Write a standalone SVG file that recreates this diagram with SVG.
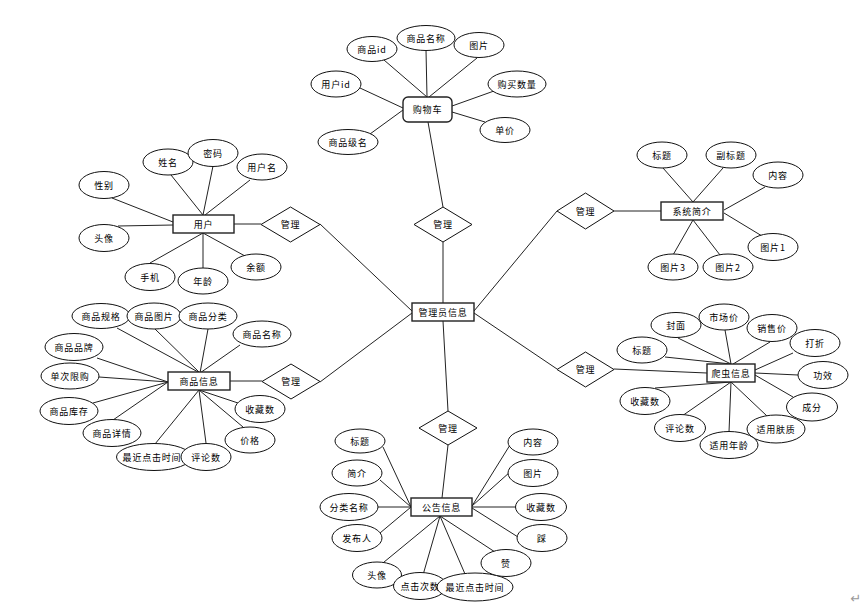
<svg xmlns="http://www.w3.org/2000/svg" width="866" height="610" viewBox="0 0 866 610">
<style>
.bg{fill:#fff}
.ln{stroke:#222;stroke-width:1;fill:none}
.at{fill:#fff;stroke:#111;stroke-width:1}
.en{fill:#fff;stroke:#222;stroke-width:1.4}
.rl{fill:#fff;stroke:#111;stroke-width:1}
.t{font-family:"Noto Sans CJK SC","Liberation Sans",sans-serif;font-size:9px;letter-spacing:0.8px;fill:#000;text-anchor:middle;dominant-baseline:central}
</style>
<rect class="bg" width="866" height="610"/>
<g id="connectors">
<!-- cart -->
<line class="ln" x1="384" y1="60" x2="427" y2="97"/>
<line class="ln" x1="426" y1="50" x2="427" y2="97"/>
<line class="ln" x1="477" y1="58" x2="429" y2="97"/>
<line class="ln" x1="360" y1="88" x2="403" y2="108"/>
<line class="ln" x1="494" y1="91" x2="452" y2="106"/>
<line class="ln" x1="485" y1="122" x2="452" y2="112"/>
<line class="ln" x1="370" y1="134" x2="403" y2="110"/>
<line class="ln" x1="428" y1="122" x2="443" y2="207"/>
<!-- admin links -->
<line class="ln" x1="443" y1="242" x2="443" y2="303"/>
<line class="ln" x1="320" y1="224" x2="412" y2="311"/>
<line class="ln" x1="320" y1="382" x2="412" y2="313"/>
<line class="ln" x1="557" y1="211" x2="474" y2="311"/>
<line class="ln" x1="557" y1="369" x2="474" y2="313"/>
<line class="ln" x1="443" y1="321" x2="448" y2="411"/>
<line class="ln" x1="448" y1="445" x2="442" y2="498"/>
<line class="ln" x1="234" y1="224" x2="261" y2="224"/>
<line class="ln" x1="230" y1="381" x2="262" y2="381"/>
<line class="ln" x1="614" y1="211" x2="661" y2="211"/>
<line class="ln" x1="614" y1="369" x2="707" y2="373"/>
<!-- user -->
<line class="ln" x1="171" y1="175" x2="203" y2="215"/>
<line class="ln" x1="213" y1="166" x2="203" y2="215"/>
<line class="ln" x1="250" y1="180" x2="205" y2="215"/>
<line class="ln" x1="112" y1="198" x2="173" y2="222"/>
<line class="ln" x1="118" y1="226" x2="173" y2="225"/>
<line class="ln" x1="150" y1="263" x2="203" y2="233"/>
<line class="ln" x1="203" y1="268" x2="203" y2="233"/>
<line class="ln" x1="245" y1="256" x2="203" y2="233"/>
<!-- goods -->
<line class="ln" x1="117" y1="328" x2="200" y2="373"/>
<line class="ln" x1="155" y1="329" x2="200" y2="373"/>
<line class="ln" x1="208" y1="329" x2="200" y2="373"/>
<line class="ln" x1="240" y1="345" x2="200" y2="373"/>
<line class="ln" x1="97" y1="358" x2="168" y2="382"/>
<line class="ln" x1="99" y1="377" x2="168" y2="382"/>
<line class="ln" x1="93" y1="403" x2="168" y2="382"/>
<line class="ln" x1="113" y1="420" x2="168" y2="382"/>
<line class="ln" x1="155" y1="444" x2="199" y2="390"/>
<line class="ln" x1="206" y1="443" x2="199" y2="390"/>
<line class="ln" x1="243" y1="427" x2="199" y2="390"/>
<line class="ln" x1="238" y1="403" x2="199" y2="390"/>
<!-- notice -->
<line class="ln" x1="383" y1="447" x2="411" y2="507"/>
<line class="ln" x1="380" y1="480" x2="411" y2="507"/>
<line class="ln" x1="378" y1="507" x2="411" y2="507"/>
<line class="ln" x1="380" y1="533" x2="411" y2="507"/>
<line class="ln" x1="378" y1="567" x2="440" y2="516"/>
<line class="ln" x1="423" y1="575" x2="440" y2="516"/>
<line class="ln" x1="465" y1="574" x2="440" y2="516"/>
<line class="ln" x1="495" y1="552" x2="440" y2="516"/>
<line class="ln" x1="518" y1="537" x2="472" y2="508"/>
<line class="ln" x1="517" y1="507" x2="472" y2="507"/>
<line class="ln" x1="510" y1="472" x2="472" y2="506"/>
<line class="ln" x1="510" y1="445" x2="472" y2="506"/>
<!-- system intro -->
<line class="ln" x1="663" y1="168" x2="693" y2="202"/>
<line class="ln" x1="723" y1="168" x2="693" y2="202"/>
<line class="ln" x1="765" y1="187" x2="724" y2="210"/>
<line class="ln" x1="762" y1="236" x2="724" y2="213"/>
<line class="ln" x1="720" y1="255" x2="693" y2="220"/>
<line class="ln" x1="673" y1="255" x2="693" y2="220"/>
<!-- crawler -->
<line class="ln" x1="678" y1="338" x2="731" y2="364"/>
<line class="ln" x1="725" y1="330" x2="731" y2="364"/>
<line class="ln" x1="770" y1="342" x2="733" y2="364"/>
<line class="ln" x1="793" y1="353" x2="755" y2="370"/>
<line class="ln" x1="798" y1="375" x2="755" y2="373"/>
<line class="ln" x1="793" y1="397" x2="755" y2="375"/>
<line class="ln" x1="767" y1="416" x2="731" y2="382"/>
<line class="ln" x1="729" y1="432" x2="731" y2="382"/>
<line class="ln" x1="682" y1="416" x2="731" y2="382"/>
<line class="ln" x1="655" y1="388" x2="731" y2="382"/>
<line class="ln" x1="665" y1="357" x2="731" y2="364"/>
</g>

<!-- cart -->
<g id="cart"><rect class="en" x="403" y="97" width="49" height="25" rx="5"/><text class="t" x="427.5" y="109.5">购物车</text></g>
<g id="cart-goodsid"><ellipse class="at" cx="372" cy="49" rx="25" ry="12.5"/><text class="t" x="372" y="49">商品id</text></g>
<g id="cart-goodsname"><ellipse class="at" cx="426" cy="38" rx="29" ry="12.5"/><text class="t" x="426" y="38">商品名称</text></g>
<g id="cart-pic"><ellipse class="at" cx="479" cy="45" rx="25" ry="12.5"/><text class="t" x="479" y="45">图片</text></g>
<g id="cart-userid"><ellipse class="at" cx="336" cy="84" rx="25" ry="13"/><text class="t" x="336" y="84">用户id</text></g>
<g id="cart-qty"><ellipse class="at" cx="517" cy="84" rx="29" ry="13"/><text class="t" x="517" y="84">购买数量</text></g>
<g id="cart-price"><ellipse class="at" cx="505" cy="130" rx="25" ry="12.5"/><text class="t" x="505" y="130">单价</text></g>
<g id="cart-level"><ellipse class="at" cx="348" cy="142" rx="30" ry="12.5"/><text class="t" x="348" y="142">商品级名</text></g>

<!-- relations -->
<g id="rel-cart"><polygon class="rl" points="443,207 472,224.5 443,242 414,224.5"/><text class="t" x="443" y="224.5">管理</text></g>
<g id="rel-user"><polygon class="rl" points="290.5,207 320,224.5 290.5,242 261,224.5"/><text class="t" x="290.5" y="224.5">管理</text></g>
<g id="rel-goods"><polygon class="rl" points="291,364 320,381.5 291,399 262,381.5"/><text class="t" x="291" y="381.5">管理</text></g>
<g id="rel-intro"><polygon class="rl" points="585.5,193 614,211 585.5,229 557,211"/><text class="t" x="585.5" y="211">管理</text></g>
<g id="rel-crawler"><polygon class="rl" points="585.5,352 614,369.5 585.5,387 557,369.5"/><text class="t" x="585.5" y="369.5">管理</text></g>
<g id="rel-notice"><polygon class="rl" points="448,411 477,428 448,445 419,428"/><text class="t" x="448" y="428">管理</text></g>

<!-- admin -->
<g id="admin"><rect class="en" x="412" y="303" width="62" height="18"/><text class="t" x="443" y="312">管理员信息</text></g>

<!-- user -->
<g id="user"><rect class="en" x="173" y="215" width="61" height="18"/><text class="t" x="203.5" y="224">用户</text></g>
<g id="user-name"><ellipse class="at" cx="168" cy="162" rx="25" ry="13"/><text class="t" x="168" y="162">姓名</text></g>
<g id="user-pwd"><ellipse class="at" cx="213" cy="153" rx="25" ry="13.5"/><text class="t" x="213" y="153">密码</text></g>
<g id="user-uname"><ellipse class="at" cx="262" cy="167" rx="25" ry="13"/><text class="t" x="262" y="167">用户名</text></g>
<g id="user-sex"><ellipse class="at" cx="104" cy="185" rx="25" ry="13.5"/><text class="t" x="104" y="185">性别</text></g>
<g id="user-avatar"><ellipse class="at" cx="104" cy="238" rx="25" ry="13.5"/><text class="t" x="104" y="238">头像</text></g>
<g id="user-phone"><ellipse class="at" cx="150" cy="277" rx="25" ry="13.5"/><text class="t" x="150" y="277">手机</text></g>
<g id="user-age"><ellipse class="at" cx="203" cy="281" rx="25" ry="13"/><text class="t" x="203" y="281">年龄</text></g>
<g id="user-balance"><ellipse class="at" cx="256" cy="267" rx="25" ry="13"/><text class="t" x="256" y="267">余额</text></g>

<!-- goods -->
<g id="goods"><rect class="en" x="168" y="372" width="62" height="18"/><text class="t" x="199" y="381">商品信息</text></g>
<g id="goods-spec"><ellipse class="at" cx="101" cy="316" rx="29" ry="12.5"/><text class="t" x="101" y="316">商品规格</text></g>
<g id="goods-pic"><ellipse class="at" cx="154" cy="316" rx="27" ry="13"/><text class="t" x="154" y="316">商品图片</text></g>
<g id="goods-cat"><ellipse class="at" cx="208" cy="316" rx="29" ry="13"/><text class="t" x="208" y="316">商品分类</text></g>
<g id="goods-name"><ellipse class="at" cx="262" cy="334" rx="29" ry="13"/><text class="t" x="262" y="334">商品名称</text></g>
<g id="goods-brand"><ellipse class="at" cx="74" cy="347" rx="29" ry="13.5"/><text class="t" x="74" y="347">商品品牌</text></g>
<g id="goods-limit"><ellipse class="at" cx="70" cy="376" rx="29" ry="13"/><text class="t" x="70" y="376">单次限购</text></g>
<g id="goods-stock"><ellipse class="at" cx="69" cy="411" rx="29" ry="13.5"/><text class="t" x="69" y="411">商品库存</text></g>
<g id="goods-detail"><ellipse class="at" cx="112" cy="433" rx="29" ry="13.5"/><text class="t" x="112" y="433">商品详情</text></g>
<g id="goods-click"><ellipse class="at" cx="154" cy="457" rx="37.5" ry="13.5"/><text class="t" x="152" y="457">最近点击时间</text></g>
<g id="goods-comment"><ellipse class="at" cx="206" cy="457" rx="25" ry="13.5"/><text class="t" x="206" y="457">评论数</text></g>
<g id="goods-price"><ellipse class="at" cx="250" cy="440" rx="25" ry="13"/><text class="t" x="250" y="440">价格</text></g>
<g id="goods-fav"><ellipse class="at" cx="260" cy="409" rx="25" ry="13.5"/><text class="t" x="260" y="409">收藏数</text></g>

<!-- notice -->
<g id="notice"><rect class="en" x="411" y="498" width="61" height="18"/><text class="t" x="441.5" y="507">公告信息</text></g>
<g id="notice-title"><ellipse class="at" cx="360" cy="441" rx="25" ry="12"/><text class="t" x="360" y="441">标题</text></g>
<g id="notice-intro"><ellipse class="at" cx="357" cy="473" rx="25" ry="13"/><text class="t" x="357" y="473">简介</text></g>
<g id="notice-cat"><ellipse class="at" cx="349" cy="507" rx="29" ry="13.5"/><text class="t" x="349" y="507">分类名称</text></g>
<g id="notice-pub"><ellipse class="at" cx="357" cy="538" rx="25" ry="13.5"/><text class="t" x="357" y="538">发布人</text></g>
<g id="notice-avatar"><ellipse class="at" cx="377" cy="575" rx="24.5" ry="13"/><text class="t" x="377" y="575">头像</text></g>
<g id="notice-clicks"><ellipse class="at" cx="420" cy="586" rx="26.5" ry="13.5"/><text class="t" x="420" y="586">点击次数</text></g>
<g id="notice-last"><ellipse class="at" cx="475" cy="587" rx="38" ry="14"/><text class="t" x="475" y="587">最近点击时间</text></g>
<g id="notice-like"><ellipse class="at" cx="506" cy="563" rx="25" ry="13.5"/><text class="t" x="506" y="563">赞</text></g>
<g id="notice-dislike"><ellipse class="at" cx="542" cy="538" rx="25" ry="13.5"/><text class="t" x="542" y="538">踩</text></g>
<g id="notice-fav"><ellipse class="at" cx="541" cy="507" rx="25.5" ry="13.5"/><text class="t" x="541" y="507">收藏数</text></g>
<g id="notice-pic"><ellipse class="at" cx="533" cy="473" rx="25" ry="13.5"/><text class="t" x="533" y="473">图片</text></g>
<g id="notice-content"><ellipse class="at" cx="533" cy="442" rx="25" ry="13"/><text class="t" x="533" y="442">内容</text></g>

<!-- system intro -->
<g id="intro"><rect class="en" x="661" y="202" width="62" height="18"/><text class="t" x="692" y="211">系统简介</text></g>
<g id="intro-title"><ellipse class="at" cx="662" cy="155" rx="25" ry="13"/><text class="t" x="662" y="155">标题</text></g>
<g id="intro-sub"><ellipse class="at" cx="731" cy="155" rx="25" ry="13"/><text class="t" x="731" y="155">副标题</text></g>
<g id="intro-content"><ellipse class="at" cx="778" cy="175" rx="25" ry="13"/><text class="t" x="778" y="175">内容</text></g>
<g id="intro-pic1"><ellipse class="at" cx="773" cy="247" rx="25" ry="13.5"/><text class="t" x="773" y="247">图片1</text></g>
<g id="intro-pic2"><ellipse class="at" cx="728" cy="267" rx="25" ry="13"/><text class="t" x="728" y="267">图片2</text></g>
<g id="intro-pic3"><ellipse class="at" cx="673" cy="267" rx="25" ry="13"/><text class="t" x="673" y="267">图片3</text></g>

<!-- crawler -->
<g id="crawler"><rect class="en" x="707" y="364" width="48" height="18"/><text class="t" x="731" y="373">爬虫信息</text></g>
<g id="cr-cover"><ellipse class="at" cx="676" cy="325" rx="25" ry="12.5"/><text class="t" x="676" y="325">封面</text></g>
<g id="cr-market"><ellipse class="at" cx="724" cy="317" rx="25" ry="13"/><text class="t" x="724" y="317">市场价</text></g>
<g id="cr-sale"><ellipse class="at" cx="772" cy="328" rx="25" ry="13.5"/><text class="t" x="772" y="328">销售价</text></g>
<g id="cr-discount"><ellipse class="at" cx="815" cy="343" rx="25" ry="13.5"/><text class="t" x="815" y="343">打折</text></g>
<g id="cr-effect"><ellipse class="at" cx="823" cy="375" rx="25" ry="13.5"/><text class="t" x="823" y="375">功效</text></g>
<g id="cr-comp"><ellipse class="at" cx="812" cy="407" rx="25.5" ry="14"/><text class="t" x="812" y="407">成分</text></g>
<g id="cr-skin"><ellipse class="at" cx="776" cy="429" rx="29" ry="14"/><text class="t" x="776" y="429">适用肤质</text></g>
<g id="cr-age"><ellipse class="at" cx="729" cy="445" rx="29" ry="13.5"/><text class="t" x="729" y="445">适用年龄</text></g>
<g id="cr-comment"><ellipse class="at" cx="680" cy="428" rx="25.5" ry="13.5"/><text class="t" x="680" y="428">评论数</text></g>
<g id="cr-fav"><ellipse class="at" cx="645" cy="401" rx="25" ry="13.5"/><text class="t" x="645" y="401">收藏数</text></g>
<g id="cr-title"><ellipse class="at" cx="642" cy="350" rx="25" ry="13"/><text class="t" x="642" y="350">标题</text></g>

<text x="856" y="598" style="font-family:'DejaVu Sans',sans-serif;font-size:13px;fill:#999;text-anchor:middle;dominant-baseline:central">↵</text>
</svg>
